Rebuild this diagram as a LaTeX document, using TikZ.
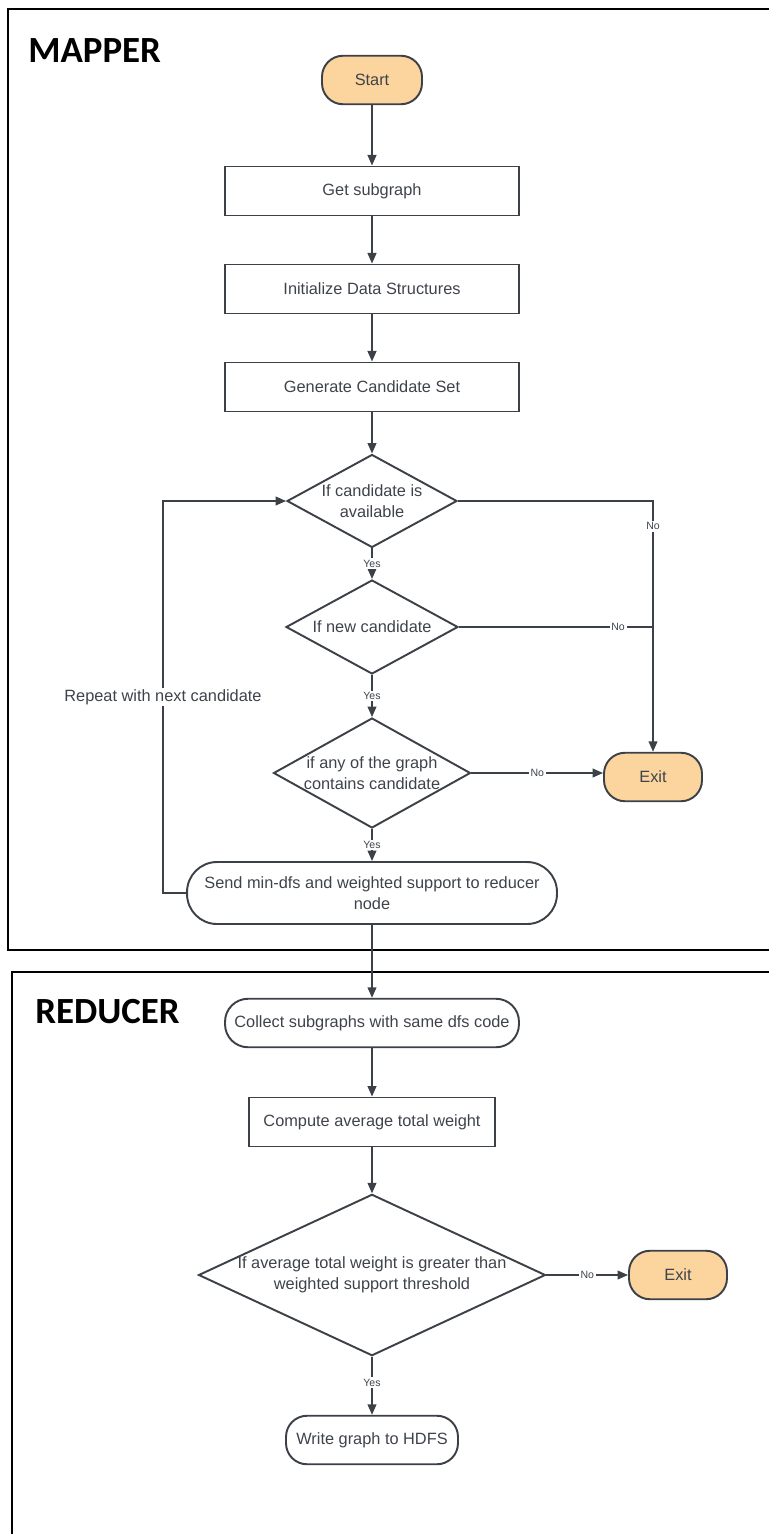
\documentclass[tikz,border=0pt]{standalone}
\usepackage{fontspec}
\setmainfont{Liberation Sans}
\newfontfamily\headfont{Carlito}
\usetikzlibrary{arrows.meta}
\usetikzlibrary{shapes.geometric}

\definecolor{flowline}{RGB}{60,65,72}
\definecolor{flowtext}{RGB}{62,67,75}
\definecolor{termfill}{RGB}{252,213,158}

\begin{document}
\begin{tikzpicture}[x=0.02cm, y=-0.02cm,
    every node/.style={text=flowtext, font=\fontsize{9.3}{12}\selectfont},
    heading/.style={anchor=base west, inner sep=0pt, text=black, font=\headfont\bfseries\fontsize{21}{25}\selectfont},
    proc/.style={rectangle, draw=flowline, line width=1.1pt, minimum height=0.98cm, inner sep=2pt},
    term/.style={rectangle, rounded corners=0.42cm, draw=flowline, line width=1.1pt, minimum height=0.97cm, inner sep=2pt, align=center},
    decision/.style={diamond, draw=flowline, line width=1.1pt, align=center, inner sep=0pt},
    link/.style={draw=flowline, line width=1pt},
    flow/.style={link, -{Triangle[length=6pt, width=5pt]}},
    choice/.style={fill=white, inner sep=1pt, font=\fontsize{6}{7}\selectfont}]
    \useasboundingbox (0,0) rectangle (768,1534);

    % frames
    \draw[line width=1.2pt] (790,9) -- (8,9) -- (8,950) -- (790,950);
    \draw[line width=1.2pt] (790,972) -- (12,972) -- (12,1550);
    \node[heading] (maphead) at (28,63) {MAPPER};
    \node[heading] (redhead) at (35,1023) {REDUCER};

    % mapper
    \node[term, fill=termfill, minimum width=2cm] (start) at (372,80) {Start};
    \node[proc, minimum width=5.88cm] (get) at (372,191) {Get subgraph};
    \node[proc, minimum width=5.88cm] (init) at (372,289) {Initialize Data Structures};
    \node[proc, minimum width=5.88cm] (gen) at (372,387) {Generate Candidate Set};
    \node[decision, aspect=1.83, minimum width=3.4cm, minimum height=1.86cm] (avail) at (372,501) {If candidate is\\available};
    \node[decision, aspect=1.83, minimum width=3.44cm, minimum height=1.88cm] (isnew) at (372,627) {If new candidate};
    \node[decision, aspect=1.79, minimum width=3.94cm, minimum height=2.2cm] (contains) at (372,773) {if any of the graph\\contains candidate};
    \node[term, rounded corners=0.6cm, minimum width=7.4cm, minimum height=1.24cm] (send) at (372,893) {Send min-dfs and weighted support to reducer\\node};
    \node[term, fill=termfill, minimum width=1.96cm] (mapexit) at (653,777) {Exit};
    \coordinate (loop) at (163,893);

    % reducer
    \node[term, rounded corners=0.46cm, minimum width=5.88cm] (collect) at (372,1023) {Collect subgraphs with same dfs code};
    \node[proc, minimum width=4.92cm] (avg) at (372,1122) {Compute average total weight};
    \node[decision, aspect=2.15, minimum width=6.84cm, minimum height=3.18cm] (thresh) at (372,1275) {If average total weight is greater than\\weighted support threshold};
    \node[term, fill=termfill, minimum width=1.96cm] (redexit) at (678,1275) {Exit};
    \node[term, minimum width=3.44cm] (write) at (372,1440) {Write graph to HDFS};

    \draw[flow] (start) -- (get);
    \draw[flow] (get) -- (init);
    \draw[flow] (init) -- (gen);
    \draw[flow] (gen) -- (avail);
    \draw[flow] (avail) -- node[choice] {Yes} (isnew);
    \draw[flow] (isnew) -- node[choice] {Yes} (contains);
    \draw[flow] (contains) -- node[choice] {Yes} (send);
    \draw[flow] (avail.east) -| node[choice, pos=0.55] {No} (mapexit.north);
    \draw[link] (isnew.east) -- node[choice, pos=0.82] {No} (isnew.east -| mapexit.north);
    \draw[flow] (contains.east) -- node[choice] {No} (mapexit.west |- contains.east);
    \draw[flow] (send.west) -- (loop) |- node[pos=0.25, fill=white, inner sep=1pt] {Repeat with next candidate} (avail.west);
    \draw[flow] (send) -- (collect);

    \draw[flow] (collect) -- (avg);
    \draw[flow] (avg) -- (thresh);
    \draw[flow] (thresh) -- node[choice] {No} (redexit);
    \draw[flow] (thresh) -- node[choice, pos=0.45] {Yes} (write);
  \end{tikzpicture}
\end{document}
